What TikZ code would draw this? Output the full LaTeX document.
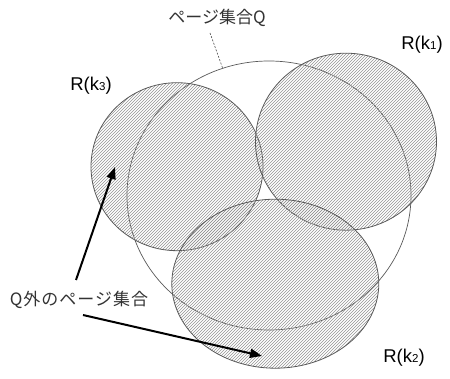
\documentclass[tikz,border=0pt]{standalone}
\usepackage{fontspec}
\setmainfont{Liberation Sans}
\newfontfamily\jp{Noto Sans CJK JP}
\newfontfamily\jpw{Noto Sans CJK JP}[LetterSpace=6]
\usetikzlibrary{shapes.geometric,patterns,arrows.meta}
\begin{document}
\begin{tikzpicture}[x=1pt,y=-1pt,
  setq/.style={ellipse,draw=black!65,line width=0.7pt,inner sep=0pt},
  hatched/.style={ellipse,draw=black!65,line width=0.8pt,inner sep=0pt,pattern=north east lines,pattern color=black!42},
  lbl/.style={font=\fontsize{18.5}{18.5}\selectfont,inner sep=0pt},
  jlbl/.style={font=\jp\fontsize{17}{17}\selectfont,inner sep=0pt,text=black!80},
  arr/.style={line width=2pt,-{Triangle[length=12pt,width=9pt]}}]
\useasboundingbox (0,0) rectangle (450,379);
% set Q
\node[setq,minimum width=284pt,minimum height=269pt] (Q) at (269,195.5) {};
% hatched sets
\node[hatched,minimum width=172pt,minimum height=168pt] (R3) at (177,166.7) {};
\node[hatched,minimum width=181pt,minimum height=177pt] (R1) at (346,141.7) {};
\node[hatched,minimum width=207pt,minimum height=169pt] (R2) at (275.3,283.7) {};
% labels
\node[jlbl] (lq) at (217,18) {ページ集合Q};
\node[lbl] (l1) at (422,45) {R(k{\fontsize{11.5}{11.5}\selectfont 1})};
\node[lbl] (l3) at (91,86) {R(k{\fontsize{11.5}{11.5}\selectfont 3})};
\node[lbl] (l2) at (404,358) {R(k{\fontsize{11.5}{11.5}\selectfont 2})};
\node[jlbl,font=\jpw\fontsize{17}{17}\selectfont] (lo) at (79,300) {Q外のページ集合};
% connectors
\draw[dashed,black!70,line width=0.6pt,dash pattern=on 2pt off 1.5pt] ([xshift=-7pt,yshift=-6pt]lq.south) -- (Q.110);
\coordinate (s3) at (76,280);
\coordinate (t3) at (115,167);
\coordinate (s2) at (83,315);
\coordinate (t2) at (262,356);
\draw[arr] (s3) -- (t3);
\draw[arr] (s2) -- (t2);
\end{tikzpicture}
\end{document}
